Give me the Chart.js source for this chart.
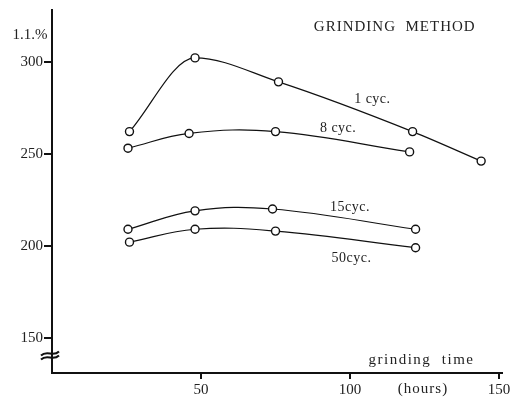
<!DOCTYPE html>
<html>
<head>
<meta charset="utf-8">
<script src="https://cdn.jsdelivr.net/npm/chart.js@4/dist/chart.umd.min.js"></script>
<style>
  html, body { margin: 0; padding: 0; background: #fff; }
  #wrap { width: 516px; height: 400px; }
</style>
</head>
<body>
<div id="wrap"><canvas id="grindChart" width="516" height="400"></canvas></div>
<script>
// grinding time (hours) and values
const hours1 = [26, 48, 76, 121, 144];
const cyc1 = [262, 302, 289, 262, 246];
const hours8 = [25.5, 46, 75, 120];
const cyc8 = [253, 261, 262, 251];
const hours15 = [25.5, 48, 74, 122];
const cyc15 = [209, 219, 220, 209];
const hours50 = [26, 48, 75, 122];
const cyc50 = [202, 209, 208, 199];

const xTicks = [50, 100, 150];
const yTicks = [150, 200, 250, 300];

const seriesNames = ['1 cyc.', '8 cyc.', '15cyc.', '50cyc.'];

const FONT = '"Liberation Serif", "DejaVu Serif", serif';

function toPoints(xs, ys) {
    return xs.map((x, i) => ({ x: x, y: ys[i] }));
}

function makeSet(label, xs, ys, mode) {
    return {
        label: label,
        data: toPoints(xs, ys),
        borderColor: '#111',
        borderWidth: 1.2,
        pointRadius: 4,
        pointBorderWidth: 1.4,
        pointBackgroundColor: '#fff',
        pointBorderColor: '#111',
        tension: 0.4,
        cubicInterpolationMode: mode || 'default',
        fill: false
    };
}

// text labels drawn at data coordinates
const textPlugin = {
    id: 'textLabels',
    afterDraw(chart) {
        const ctx = chart.ctx;
        const xs = chart.scales.x;
        const ys = chart.scales.y;
        ctx.save();
        ctx.fillStyle = '#222';
        ctx.textAlign = 'center';
        ctx.textBaseline = 'middle';

        ctx.font = '15px ' + FONT;
        ctx.letterSpacing = '1px';
        ctx.fillText('GRINDING  METHOD', xs.getPixelForValue(115), ys.getPixelForValue(318.5));

        ctx.font = '14px ' + FONT;
        ctx.letterSpacing = '0.5px';
        ctx.fillText(seriesNames[0], xs.getPixelForValue(107.5), ys.getPixelForValue(279.5));
        ctx.fillText(seriesNames[1], xs.getPixelForValue(96), ys.getPixelForValue(264));
        ctx.fillText(seriesNames[2], xs.getPixelForValue(100), ys.getPixelForValue(221));
        ctx.fillText(seriesNames[3], xs.getPixelForValue(100.5), ys.getPixelForValue(193.5));

        ctx.font = '15px ' + FONT;
        ctx.letterSpacing = '1.5px';
        ctx.fillText('grinding  time', xs.getPixelForValue(124), ys.getPixelForValue(138));
        ctx.letterSpacing = '1px';
        ctx.fillText('(hours)', xs.getPixelForValue(124.5), xs.top + 16);

        ctx.font = '15px ' + FONT;
        ctx.letterSpacing = '0px';
        ctx.fillText('1.1.%', chart.chartArea.left - 22, ys.getPixelForValue(314.5));

        // axis break mark
        const bx = chart.chartArea.left;
        const by = ys.getPixelForValue(140.5);
        ctx.strokeStyle = '#111';
        ctx.lineWidth = 2;
        for (let k = -1; k <= 1; k += 2) {
            ctx.beginPath();
            ctx.moveTo(bx - 11, by + k * 2 + 2);
            ctx.bezierCurveTo(bx - 5, by + k * 2 - 4, bx + 1, by + k * 2 + 4, bx + 7, by + k * 2 - 2);
            ctx.stroke();
        }
        ctx.restore();
    }
};

const ctx = document.getElementById('grindChart').getContext('2d');
new Chart(ctx, {
    type: 'line',
    data: {
        datasets: [
            makeSet(seriesNames[0], hours1, cyc1, 'monotone'),
            makeSet(seriesNames[1], hours8, cyc8),
            makeSet(seriesNames[2], hours15, cyc15),
            makeSet(seriesNames[3], hours50, cyc50)
        ]
    },
    options: {
        responsive: false,
        animation: false,
        layout: { padding: { top: 5, right: 14, left: 0, bottom: 0 } },
        plugins: {
            legend: { display: false },
            tooltip: { enabled: false }
        },
        scales: {
            x: {
                type: 'linear',
                min: 0,
                max: 151,
                afterBuildTicks: (scale) => { scale.ticks = xTicks.map(v => ({ value: v })); },
                afterFit: (scale) => { scale.height = 27; },
                grid: { drawOnChartArea: false, drawTicks: true, tickLength: 6, color: '#111', lineWidth: 2 },
                border: { display: true, color: '#111', width: 2 },
                ticks: { color: '#222', font: { family: FONT, size: 15 }, padding: 2, maxRotation: 0 }
            },
            y: {
                type: 'linear',
                min: 131,
                max: 328,
                afterBuildTicks: (scale) => { scale.ticks = yTicks.map(v => ({ value: v })); },
                afterFit: (scale) => { scale.width = 52; },
                grid: { drawOnChartArea: false, drawTicks: true, tickLength: 8, color: '#111', lineWidth: 2 },
                border: { display: true, color: '#111', width: 2 },
                ticks: { color: '#222', font: { family: FONT, size: 15 }, padding: 1 }
            }
        }
    },
    plugins: [textPlugin]
});
</script>
</body>
</html>
